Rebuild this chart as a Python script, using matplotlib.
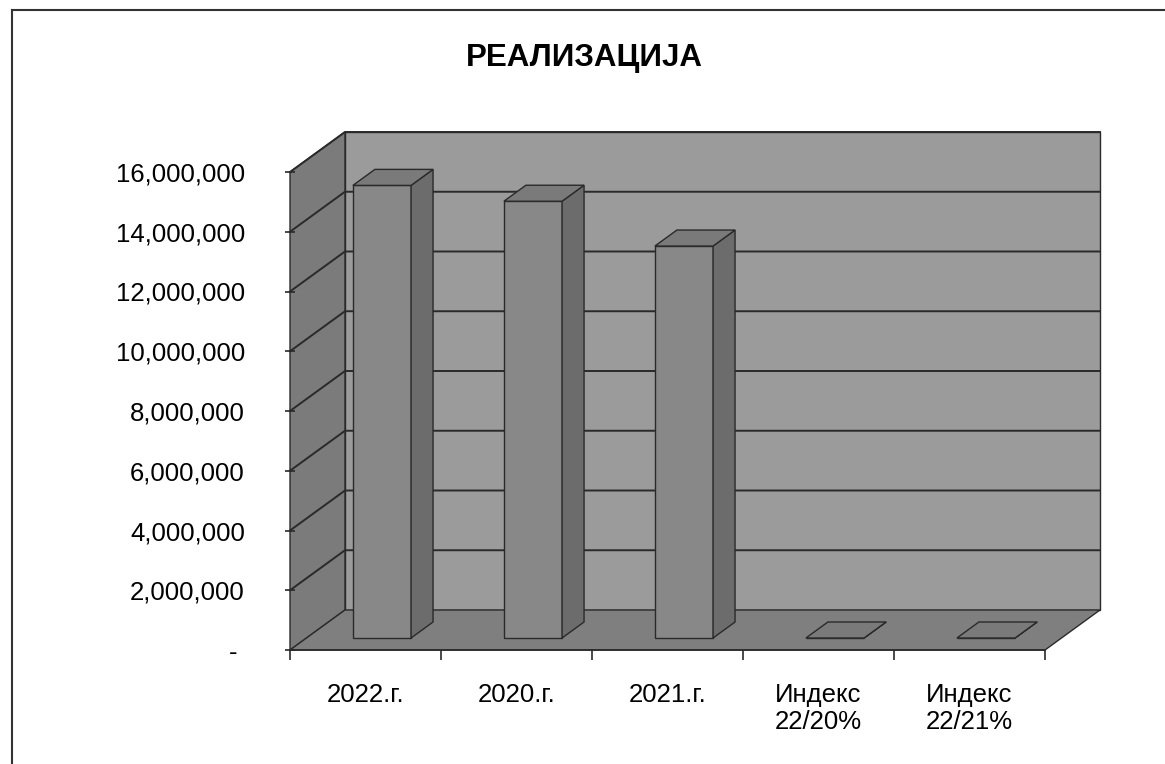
import numpy as np
import matplotlib.pyplot as plt
from matplotlib.patches import Polygon
from matplotlib.lines import Line2D
from matplotlib.ticker import FuncFormatter

plt.rcParams['font.family'] = ['Liberation Sans', 'DejaVu Sans']

# data
categories = ['2022.г.', '2020.г.', '2021.г.', 'Индекс\n22/20%', 'Индекс\n22/21%']
values = [15150000, 14620000, 13120000, 104, 116]
y_ticks = [0, 2000000, 4000000, 6000000, 8000000, 10000000, 12000000, 14000000, 16000000]
title = 'РЕАЛИЗАЦИЈА'

YMAX = 16000000
DX = 0.364  # depth offset in category units
DY = 1339000  # depth offset in value units
BAR_W = 0.385
D0, D1 = 0.3, 0.7

wall_c = '#9b9b9b'
side_c = '#7b7b7b'
floor_c = '#7f7f7f'
front_c = '#888888'
bside_c = '#6c6c6c'
top_c = '#7a7a7a'
edge_c = '#2a2a2a'

fig = plt.figure(figsize=(11.65, 7.64), dpi=100)
ax = fig.add_axes([290 / 1165, 114 / 764, 755 / 1165, 478 / 764])
n = len(categories)
ax.set_xlim(0, n)
ax.set_ylim(0, YMAX)


def p(x, v, d):
    return (x + d * DX, v + d * DY)


def poly(pts, fc, lw=1.0, z=1):
    ax.add_patch(Polygon([p(*q) for q in pts], closed=True, facecolor=fc,
                         edgecolor=edge_c, linewidth=lw, clip_on=False, zorder=z))


# walls and floor
poly([(0, 0, 1), (n, 0, 1), (n, YMAX, 1), (0, YMAX, 1)], wall_c, z=1)
poly([(0, 0, 0), (0, 0, 1), (0, YMAX, 1), (0, YMAX, 0)], side_c, z=1)
poly([(0, 0, 0), (n, 0, 0), (n, 0, 1), (0, 0, 1)], floor_c, z=1)

# gridlines
for t in y_ticks[1:]:
    xs, ys = zip(p(0, t, 0), p(0, t, 1), p(n, t, 1))
    ax.plot(xs, ys, color=edge_c, lw=1.4, clip_on=False, zorder=2)

# bars
for i, v in enumerate(values):
    x0 = i + 0.5 - BAR_W / 2
    x1 = i + 0.5 + BAR_W / 2
    poly([(x0, 0, D0), (x1, 0, D0), (x1, v, D0), (x0, v, D0)], front_c, z=3)
    poly([(x1, 0, D0), (x1, 0, D1), (x1, v, D1), (x1, v, D0)], bside_c, z=3)
    poly([(x0, v, D0), (x1, v, D0), (x1, v, D1), (x0, v, D1)], top_c, z=4)

# axes
for s in ax.spines.values():
    s.set_visible(False)
ax.set_yticks(y_ticks)
ax.yaxis.set_major_formatter(FuncFormatter(lambda v, pos: '- ' if v == 0 else f'{int(v):,}'))
ax.tick_params(axis='y', length=7, width=1.2, color=edge_c, pad=29, labelsize=18.5, direction='inout')
ax.set_xticks(np.arange(n + 1))
ax.set_xticks(np.arange(n) + 0.5, minor=True)
ax.set_xticklabels([])
ax.set_xticklabels(categories, minor=True)
ax.tick_params(axis='x', which='major', length=7, width=1.2, color=edge_c, direction='out')
ax.tick_params(axis='x', which='minor', length=0, pad=24, labelsize=18.5)
for lbl in ax.get_xticklabels(minor=True):
    lbl.set_linespacing(1.15)
ax.plot([0, n], [0, 0], color=edge_c, lw=1.2, clip_on=False, zorder=5)

fig.suptitle(title, x=584 / 1165, y=1 - 58 / 764, va='center', fontsize=22.5, fontweight='bold')

# outer frame
fig.add_artist(Line2D([12 / 1165, 12 / 1165], [0, 1 - 10 / 764], color='#333333', lw=1.5))
fig.add_artist(Line2D([12 / 1165, 1], [1 - 10 / 764, 1 - 10 / 764], color='#333333', lw=1.5))

plt.savefig('out.png')
